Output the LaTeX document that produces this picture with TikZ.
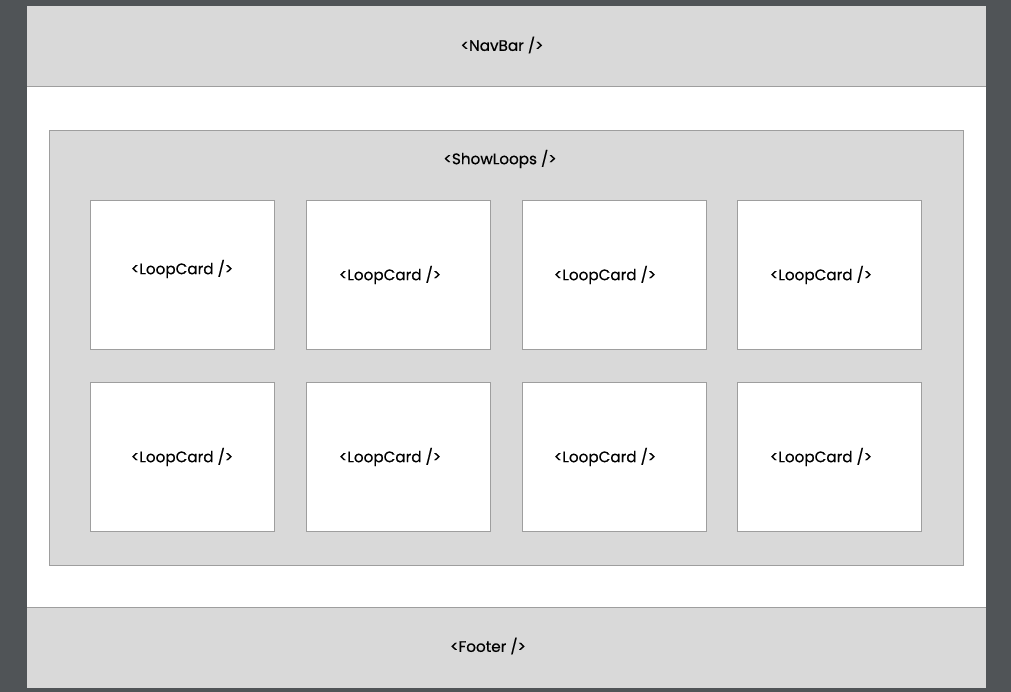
\documentclass[tikz,border=0pt]{standalone}
\usepackage{fontspec}
\setmainfont{Poppins}
\newfontfamily\tagfont{Poppins}[FakeBold=0.5]
\usetikzlibrary{positioning}
\definecolor{deskgrey}{HTML}{505457}
\definecolor{boxgrey}{HTML}{D9D9D9}
\definecolor{edgegrey}{HTML}{9E9E9E}
\tikzset{
  tag/.style={font=\tagfont\fontsize{15.2}{17}\selectfont,text=black,inner sep=0pt},
  cardbox/.style={draw=edgegrey,line width=0.9pt,fill=white},
}
\begin{document}
\begin{tikzpicture}[x=1pt,y=-1pt]
\useasboundingbox (0,0) rectangle (1011,692);
\fill[deskgrey] (0,0) rectangle (1011,692);
\fill[white] (27,6) rectangle (986,688);

% navbar and footer bands
\fill[boxgrey] (27,6) rectangle (986,87);
\draw[edgegrey,line width=1pt] (27,87) -- (986,87);
\node[tag] (navbar) at (502,45) {<NavBar />};

\fill[boxgrey] (27,607) rectangle (986,688);
\draw[edgegrey,line width=1pt] (27,607) -- (986,607);
\node[tag] (footer) at (488,646) {<Footer />};

% ShowLoops container
\draw[edgegrey,fill=boxgrey,line width=1pt] (49.5,130.5) rectangle (963.5,565);
\node[tag] (showloops) at (500,159) {<ShowLoops />};

% loop cards
\foreach \i/\x in {1/90.5,2/306,3/522,4/737.5}{
  \foreach \j/\y in {1/200.5,2/382.5}{
    \draw[cardbox] (\x,\y) rectangle ++(184,149);
  }
}
\node[tag] (card11) at (182,269) {<LoopCard />};
\node[tag] (card21) at (390,275) {<LoopCard />};
\node[tag] (card31) at (605,275) {<LoopCard />};
\node[tag] (card41) at (821,275) {<LoopCard />};
\node[tag] (card12) at (182,457) {<LoopCard />};
\node[tag] (card22) at (390,457) {<LoopCard />};
\node[tag] (card32) at (605,457) {<LoopCard />};
\node[tag] (card42) at (821,457) {<LoopCard />};
\end{tikzpicture}
\end{document}
